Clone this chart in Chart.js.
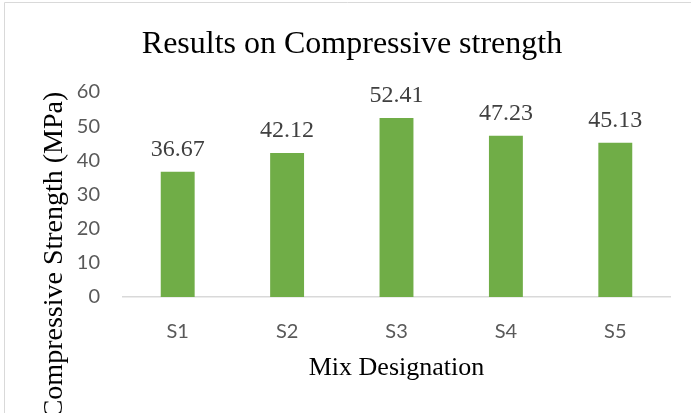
<!DOCTYPE html>
<html>
<head>
<meta charset="utf-8">
<script src="https://cdn.jsdelivr.net/npm/chart.js@4"></script>
<style>
html,body{margin:0;padding:0;background:#fff;}
#wrap{width:691px;height:413px;position:relative;}
</style>
</head>
<body>
<div id="wrap"><canvas id="c" width="691" height="413"></canvas></div>
<script>
const categories = ["S1", "S2", "S3", "S4", "S5"];
const strengthValues = [36.67, 42.12, 52.41, 47.23, 45.13];
const yTicks = [0, 10, 20, 30, 40, 50, 60];
const chartTitle = "Results on Compressive strength";
const xTitle = "Mix Designation";
const yTitle = "Compressive Strength (MPa)";

const serif = "'Liberation Serif', 'Times New Roman', serif";

const decor = {
  id: 'decor',
  beforeDraw(chart) {
    const ctx = chart.ctx;
    ctx.save();
    ctx.strokeStyle = '#d9d9d9';
    ctx.lineWidth = 1;
    ctx.beginPath();
    ctx.moveTo(4.5, 413);
    ctx.lineTo(4.5, 2.5);
    ctx.lineTo(691, 2.5);
    ctx.stroke();
    ctx.restore();
  },
  afterDraw(chart) {
    const ctx = chart.ctx;
    const area = chart.chartArea;
    ctx.save();
    ctx.fillStyle = '#000000';
    ctx.font = "32px " + serif;
    ctx.textAlign = 'center';
    ctx.textBaseline = 'alphabetic';
    ctx.fillText(chartTitle, 352, 53);
    ctx.font = "26px " + serif;
    ctx.fillText(xTitle, (area.left + area.right) / 2, 375);
    ctx.save();
    ctx.translate(62, 255);
    ctx.rotate(-Math.PI / 2);
    ctx.font = "28px " + serif;
    ctx.fillText(yTitle, 0, 0);
    ctx.restore();
    ctx.font = "24px " + serif;
    ctx.fillStyle = '#404040';
    const meta = chart.getDatasetMeta(0);
    meta.data.forEach((bar, i) => {
      const v = chart.data.datasets[0].data[i];
      ctx.fillText(v.toFixed(2), bar.x, bar.y - 16);
    });
    ctx.restore();
  }
};

new Chart(document.getElementById('c'), {
  type: 'bar',
  data: {
    labels: categories,
    datasets: [{
      data: strengthValues,
      backgroundColor: '#70ad47',
      borderWidth: 0,
      barPercentage: 0.62,
      categoryPercentage: 0.5
    }]
  },
  options: {
    responsive: false,
    animation: false,
    devicePixelRatio: 1,
    layout: { padding: { top: 92, right: 21, left: 0, bottom: 0 } },
    plugins: {
      legend: { display: false },
      title: { display: false },
      tooltip: { enabled: false }
    },
    scales: {
      x: {
        grid: { display: false, drawTicks: false },
        border: { display: true, color: '#d9d9d9', width: 1.5 },
        ticks: {
          color: '#595959',
          font: { family: "Lato, 'Open Sans', sans-serif", size: 20 },
          padding: 23
        },
        afterFit(scale) { scale.height = 116; }
      },
      y: {
        min: 0,
        max: 60,
        afterBuildTicks(scale) { scale.ticks = yTicks.map(v => ({ value: v })); },
        grid: { display: false, drawTicks: false },
        border: { display: false },
        ticks: {
          color: '#595959',
          font: { family: "Lato, 'Open Sans', sans-serif", size: 20 },
          padding: 23
        },
        afterFit(scale) { scale.width = 123; }
      }
    }
  },
  plugins: [decor]
});
</script>
</body>
</html>
